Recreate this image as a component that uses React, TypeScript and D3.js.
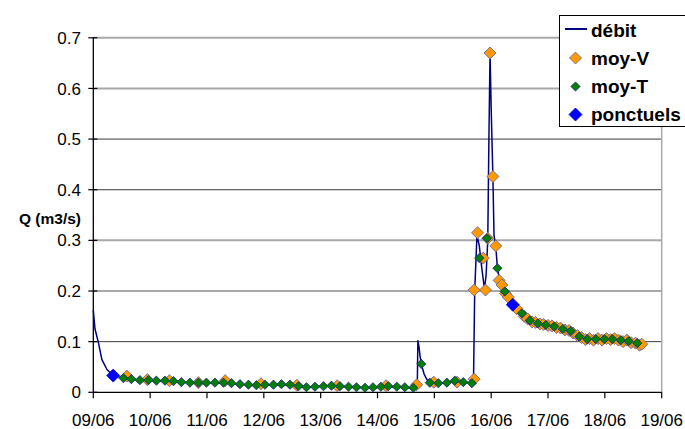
import React from "react";
import * as d3 from "d3";

// Time is expressed in days since 09/06 00:00
const dayLabels = ["09/06", "10/06", "11/06", "12/06", "13/06", "14/06", "15/06", "16/06", "17/06", "18/06", "19/06"];
const yTicks = [0, 0.1, 0.2, 0.3, 0.4, 0.5, 0.6, 0.7];

// débit (continuous discharge)
const debitT = [
  0.0, 0.03, 0.09, 0.15, 0.24, 0.35, 0.53, 0.67, 0.82, 0.97, 1.11, 1.26, 1.41, 1.55, 1.7, 1.85, 1.99, 2.14, 2.29,
  2.43, 2.58, 2.73, 2.87, 3.02, 3.17, 3.31, 3.46, 3.61, 3.75, 3.9, 4.05, 4.19, 4.34, 4.49, 4.63, 4.78, 4.92, 5.07,
  5.22, 5.36, 5.51, 5.65, 5.7, 5.71, 5.73, 5.75, 5.78, 5.82, 5.87, 5.92, 6.07, 6.22, 6.36, 6.51, 6.66, 6.69, 6.71,
  6.75, 6.79, 6.83, 6.88, 6.91, 6.94, 6.96, 6.98, 7.0, 7.03, 7.05, 7.08, 7.11, 7.15, 7.2, 7.24, 7.38, 7.54, 7.68,
  7.82, 7.96, 8.11, 8.26, 8.4, 8.55, 8.69, 8.84, 8.99, 9.13, 9.28, 9.42, 9.57, 9.65,
];
const debitQ = [
  0.162, 0.125, 0.098, 0.065, 0.045, 0.033, 0.028, 0.026, 0.024, 0.024, 0.023, 0.023, 0.021, 0.02, 0.019, 0.019,
  0.019, 0.018, 0.019, 0.018, 0.016, 0.015, 0.014, 0.015, 0.015, 0.015, 0.014, 0.012, 0.011, 0.011, 0.012, 0.012,
  0.012, 0.011, 0.01, 0.009, 0.009, 0.01, 0.011, 0.01, 0.009, 0.009, 0.012, 0.102, 0.09, 0.07, 0.052, 0.036, 0.025,
  0.02, 0.018, 0.019, 0.024, 0.02, 0.019, 0.03, 0.2, 0.31, 0.29, 0.25, 0.205, 0.23, 0.3, 0.5, 0.67, 0.56, 0.426,
  0.31, 0.289, 0.245, 0.22, 0.205, 0.199, 0.173, 0.156, 0.142, 0.136, 0.133, 0.13, 0.125, 0.12, 0.11, 0.105, 0.105,
  0.105, 0.105, 0.103, 0.101, 0.097, 0.095,
];

// moy-V (volume-weighted means)
const moyVT = [
  0.59, 0.95, 1.34, 1.85, 2.32, 2.95, 3.58, 4.29, 5.15, 5.69, 5.99, 6.4, 6.7, 6.7, 6.76, 6.86, 6.9, 6.94, 6.98, 7.03,
  7.08, 7.14, 7.19, 7.25, 7.3, 7.45, 7.58, 7.64, 7.72, 7.78, 7.86, 7.92, 8.0, 8.07, 8.15, 8.22, 8.3, 8.37, 8.44, 8.52,
  8.59, 8.66, 8.73, 8.8, 8.88, 8.95, 9.03, 9.1, 9.17, 9.24, 9.32, 9.39, 9.46, 9.54, 9.61, 9.65,
];
const moyVQ = [
  0.032, 0.025, 0.023, 0.019, 0.023, 0.017, 0.014, 0.013, 0.013, 0.015, 0.02, 0.02, 0.026, 0.202, 0.315, 0.265,
  0.202, 0.304, 0.67, 0.426, 0.289, 0.221, 0.212, 0.195, 0.188, 0.165, 0.15, 0.145, 0.139, 0.138, 0.135, 0.134,
  0.132, 0.131, 0.128, 0.127, 0.123, 0.122, 0.117, 0.112, 0.108, 0.104, 0.106, 0.103, 0.106, 0.103, 0.106, 0.104,
  0.106, 0.103, 0.1, 0.103, 0.098, 0.097, 0.093, 0.095,
];

// moy-T (time-weighted means)
const moyTT = [
  0.53, 0.67, 0.82, 0.97, 1.11, 1.26, 1.41, 1.55, 1.7, 1.85, 1.99, 2.14, 2.29, 2.43, 2.58, 2.73, 2.87, 3.02, 3.17,
  3.31, 3.46, 3.61, 3.75, 3.9, 4.05, 4.19, 4.34, 4.49, 4.63, 4.78, 4.92, 5.06, 5.19, 5.34, 5.48, 5.63, 5.77, 5.92,
  6.07, 6.22, 6.36, 6.51, 6.66, 6.79, 6.93, 7.11, 7.24, 7.54, 7.68, 7.82, 7.96, 8.11, 8.26, 8.4, 8.55, 8.69, 8.84,
  8.99, 9.13, 9.28, 9.42, 9.57,
];
const moyTQ = [
  0.028, 0.026, 0.024, 0.024, 0.023, 0.023, 0.022, 0.02, 0.019, 0.019, 0.019, 0.019, 0.019, 0.018, 0.016, 0.015,
  0.014, 0.015, 0.015, 0.016, 0.015, 0.012, 0.01, 0.011, 0.012, 0.013, 0.012, 0.011, 0.01, 0.009, 0.01, 0.011, 0.012,
  0.011, 0.01, 0.009, 0.056, 0.019, 0.018, 0.019, 0.023, 0.02, 0.018, 0.265, 0.304, 0.245, 0.199, 0.156, 0.142,
  0.136, 0.133, 0.13, 0.125, 0.121, 0.11, 0.105, 0.105, 0.105, 0.105, 0.103, 0.101, 0.097,
];

// ponctuels (spot gaugings)
const ponctT = [0.35, 7.38];
const ponctQ = [0.033, 0.173];

const W = 685;
const H = 429;
const FONT = "'Liberation Sans', Arial, sans-serif";

const x = d3.scaleLinear().domain([0, 10]).range([93.3, 661.7]);
const y = d3.scaleLinear().domain([0, 0.7]).range([392.3, 37.8]);

const diamond = (cx: number, cy: number, r: number) =>
  `M${cx},${cy - r}L${cx + r},${cy}L${cx},${cy + r}L${cx - r},${cy}Z`;

// grid rendering alternates between a soft grey and a dark hairline
const gridStyle = (v: number) => {
  const dark = [0.1, 0.4, 0.5].some((d) => Math.abs(d - v) < 1e-6);
  return dark ? { stroke: "#3a3a3a", width: 1 } : { stroke: "#a8a8a8", width: 2 };
};

export default function App() {
  const line = d3
    .line<number>()
    .x((_, i) => x(debitT[i]))
    .y((d) => y(d));

  const xTicks = d3.range(dayLabels.length);

  return (
    <svg
      width={W}
      height={H}
      viewBox={`0 0 ${W} ${H}`}
      style={{ position: "absolute", left: 0, top: 0, background: "#fff", fontFamily: FONT }}
    >
      {/* gridlines */}
      {yTicks
        .filter((v) => v > 0)
        .map((v) => {
          const s = gridStyle(v);
          return (
            <line key={v} x1={x(0)} x2={x(10)} y1={y(v)} y2={y(v)} stroke={s.stroke} strokeWidth={s.width} />
          );
        })}
      {/* plot frame right side */}
      <line x1={x(10)} x2={x(10)} y1={y(0.7)} y2={y(0)} stroke="#a8a8a8" strokeWidth={1.5} />

      {/* y axis */}
      <line x1={x(0)} x2={x(0)} y1={y(0.7) - 0.5} y2={y(0)} stroke="#000" strokeWidth={1.3} />
      {yTicks.map((v) => (
        <g key={v}>
          <line x1={x(0) - 5} x2={x(0) + 4} y1={y(v)} y2={y(v)} stroke="#000" strokeWidth={1.2} />
          <text x={81} y={y(v)} dy="0.36em" textAnchor="end" fontSize={17} fill="#000">
            {d3.format(".1~f")(v)}
          </text>
        </g>
      ))}
      <text x={81} y={218} dy="0.36em" textAnchor="end" fontSize={15.5} fontWeight="bold" fill="#000">
        Q (m3/s)
      </text>

      {/* x axis */}
      <line x1={x(0)} x2={x(10)} y1={y(0)} y2={y(0)} stroke="#000" strokeWidth={1.3} />
      {xTicks.map((d) => (
        <g key={d}>
          <line x1={x(d)} x2={x(d)} y1={y(0)} y2={y(0) + 6} stroke="#000" strokeWidth={1.2} />
          <text x={x(d)} y={426} textAnchor="middle" fontSize={17} fill="#000">
            {dayLabels[d]}
          </text>
        </g>
      ))}

      {/* débit */}
      <path d={line(debitQ) ?? ""} fill="none" stroke="#000080" strokeWidth={1.5} strokeLinejoin="round" />

      {/* moy-V */}
      {moyVT.map((t, i) => (
        <path key={i} d={diamond(x(t), y(moyVQ[i]), 6)} fill="#FF9900" stroke="#6b6b9e" strokeWidth={0.9} />
      ))}
      {/* moy-T */}
      {moyTT.map((t, i) => (
        <path key={i} d={diamond(x(t), y(moyTQ[i]), 4.6)} fill="#008000" stroke="#1d1d80" strokeWidth={0.8} />
      ))}
      {/* ponctuels */}
      {ponctT.map((t, i) => (
        <path key={i} d={diamond(x(t), y(ponctQ[i]), 6.5)} fill="#0000FF" stroke="#0000cc" strokeWidth={0.8} />
      ))}

      {/* legend */}
      <rect x={559.5} y={15.5} width={140} height={111} fill="#fff" stroke="#000" strokeWidth={1} />
      <line x1={565} x2={587} y1={29} y2={29} stroke="#000080" strokeWidth={2} />
      <path d={diamond(575.5, 58, 6)} fill="#FF9900" stroke="#6b6b9e" strokeWidth={0.9} />
      <path d={diamond(575.5, 86.5, 4.6)} fill="#008000" stroke="#1d1d80" strokeWidth={0.8} />
      <path d={diamond(575.5, 114.5, 6.5)} fill="#0000FF" stroke="#0000cc" strokeWidth={0.8} />
      {["débit", "moy-V", "moy-T", "ponctuels"].map((s, i) => (
        <text key={s} x={591} y={36.5 + i * 28.3} fontSize={19} fontWeight="bold" fill="#000">
          {s}
        </text>
      ))}
    </svg>
  );
}
